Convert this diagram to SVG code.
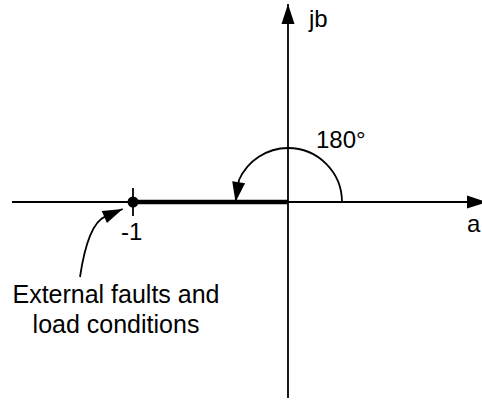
<svg xmlns="http://www.w3.org/2000/svg" width="482" height="400" viewBox="0 0 482 400">
  <style>
    .ln { fill: none; stroke: #000; stroke-width: 1.8; }
    .thick { fill: none; stroke: #000; stroke-width: 4.5; }
    .lbl { font-family: "Liberation Sans", Arial, sans-serif; font-size: 24px; fill: #000; }
    .big { font-size: 25px; }
  </style>
  <defs>
    <marker id="ah" markerUnits="userSpaceOnUse" markerWidth="20" markerHeight="13" refX="20" refY="6.5" orient="auto" overflow="visible">
      <path d="M0,0 L20,6.5 L0,13 Z" fill="#000"/>
    </marker>
  </defs>
  <rect width="482" height="400" fill="#fff"/>
  <g id="connectors">
    <path id="real-axis" class="ln" d="M12,202 L487,202" marker-end="url(#ah)"/>
    <path id="imag-axis" class="ln" d="M288,398 L288,4" marker-end="url(#ah)"/>
    <path id="segment" class="thick" d="M133,202 L288,202"/>
    <path id="angle-arc" class="ln" d="M342,202 A54,54 0 0 0 288,148 A54,54 0 0 0 239,180 L235.5,202" marker-end="url(#ah)"/>
    <path id="callout" class="ln" d="M80,277 Q87.9,224.1 105,216.7 L122.7,209" marker-end="url(#ah)"/>
  </g>
  <g id="point-minus1">
    <line x1="133" y1="188" x2="133" y2="216" stroke="#000" stroke-width="1.8"/>
    <circle cx="133" cy="202" r="5.5" fill="#000"/>
    <text class="lbl" x="121" y="240">-1</text>
  </g>
  <g id="label-jb"><text class="lbl" x="309" y="27">jb</text></g>
  <g id="label-a"><text class="lbl" x="467" y="232">a</text></g>
  <g id="label-180"><text class="lbl" x="316" y="148">180°</text></g>
  <g id="label-external">
    <text class="lbl big" x="116" y="303" text-anchor="middle">External faults and</text>
    <text class="lbl big" x="116" y="333" text-anchor="middle">load conditions</text>
  </g>
</svg>
